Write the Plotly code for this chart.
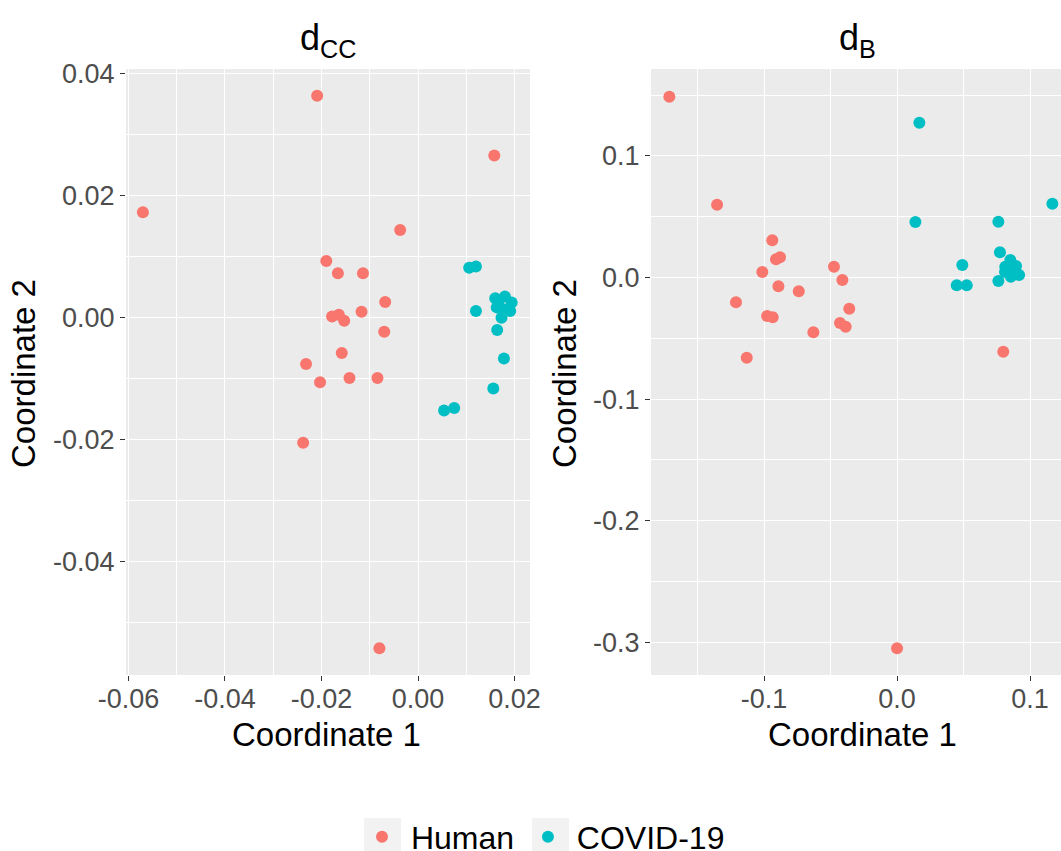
import plotly.graph_objects as go

W, H = 1061, 851

groups = ["Human", "COVID-19"]
group_colors = ["#F8766D", "#00BFC4"]

# ---- d_CC panel data ----
dcc_human_x = [-0.0570, -0.0209, 0.0158, -0.0037, -0.0190, -0.0166, -0.0114, -0.0068,
               -0.0178, -0.0164, -0.0153, -0.0117, -0.0070, -0.0158, -0.0232, -0.0203,
               -0.0142, -0.0084, -0.0238, -0.0080]
dcc_human_y = [0.0173, 0.0364, 0.0266, 0.0144, 0.0093, 0.0073, 0.0073, 0.0026,
               0.0002, 0.0005, -0.0005, 0.0010, -0.0023, -0.0058, -0.0076, -0.0106,
               -0.0099, -0.0099, -0.0205, -0.0542]
dcc_covid_x = [0.0106, 0.0120, 0.0120, 0.0160, 0.0180, 0.0194, 0.0163, 0.0177,
               0.0191, 0.0173, 0.0166, 0.0164, 0.0178, 0.0156, 0.0054, 0.0075]
dcc_covid_y = [0.0082, 0.0084, 0.0011, 0.0032, 0.0035, 0.0025, 0.0017, 0.0014,
               0.0011, 0.0000, 0.0025, -0.0020, -0.0067, -0.0116, -0.0152, -0.0148]

# ---- d_B panel data ----
db_human_x = [-0.1353, -0.0938, -0.0910, -0.0880, -0.1013, -0.0892, -0.0739, -0.1211,
              -0.0977, -0.0935, -0.0629, -0.1130, -0.0474, -0.0411, -0.0359, -0.0429,
              -0.0386, 0.0799, -0.1712, 0.0000]
db_human_y = [0.0599, 0.0306, 0.0150, 0.0166, 0.0045, -0.0072, -0.0113, -0.0204,
              -0.0317, -0.0327, -0.0451, -0.0660, 0.0089, -0.0021, -0.0257, -0.0374,
              -0.0405, -0.0610, 0.1487, -0.3049]
db_covid_x = [0.0138, 0.0762, 0.1168, 0.0774, 0.0491, 0.0449, 0.0524, 0.0762,
              0.0852, 0.0814, 0.0892, 0.0918, 0.0856, 0.0812, 0.0895, 0.0168]
db_covid_y = [0.0456, 0.0459, 0.0607, 0.0207, 0.0103, -0.0064, -0.0064, -0.0029,
              0.0144, 0.0089, 0.0048, 0.0021, 0.0007, 0.0045, 0.0095, 0.1273]

# ---- tick labels ----
dcc_xticks = [-0.06, -0.04, -0.02, 0.0, 0.02]
dcc_xticktext = ["-0.06", "-0.04", "-0.02", "0.00", "0.02"]
dcc_yticks = [-0.04, -0.02, 0.0, 0.02, 0.04]
dcc_yticktext = ["-0.04", "-0.02", "0.00", "0.02", "0.04"]
db_xticks = [-0.1, 0.0, 0.1]
db_xticktext = ["-0.1", "0.0", "0.1"]
db_yticks = [-0.3, -0.2, -0.1, 0.0, 0.1]
db_yticktext = ["-0.3", "-0.2", "-0.1", "0.0", "0.1"]

panel_titles = ["d<sub>CC</sub>", "d<sub>B</sub>"]
x_title = "Coordinate 1"
y_title = "Coordinate 2"
legend_names = [" Human\u00a0", " COVID-19"]


def minor_vals(ticks):
    step = ticks[1] - ticks[0]
    vals = [ticks[0] - step / 2] + [(a + b) / 2 for a, b in zip(ticks[:-1], ticks[1:])] + [ticks[-1] + step / 2]
    return vals


FONT = "Liberation Sans, Arial, sans-serif"
fig = go.Figure()

panels = [
    ("x", "y", [(dcc_human_x, dcc_human_y), (dcc_covid_x, dcc_covid_y)]),
    ("x2", "y2", [(db_human_x, db_human_y), (db_covid_x, db_covid_y)]),
]
for pi, (xa, ya, series) in enumerate(panels):
    for gi, (xs, ys) in enumerate(series):
        fig.add_trace(go.Scatter(
            x=xs, y=ys, mode="markers", xaxis=xa, yaxis=ya,
            name=legend_names[gi], legendgroup=groups[gi], showlegend=(pi == 0),
            marker=dict(color=group_colors[gi], size=12, line=dict(width=0)),
        ))


def px_x(p):
    return p / W


def px_y(p):
    return 1 - p / H


ydom = [px_y(675), px_y(69)]

axis_common = dict(
    showgrid=True, gridcolor="white", gridwidth=1.2, zeroline=False, showline=False,
    ticks="outside", ticklen=5, tickwidth=1.1, tickcolor="#333333", automargin=False,
    tickfont=dict(family=FONT, size=27, color="#4D4D4D"), tickmode="array",
)
xaxis_extra = dict(ticklabelstandoff=-5)


def minor(ticks):
    return dict(tickmode="array", tickvals=minor_vals(ticks), showgrid=True,
                gridcolor="white", gridwidth=0.6, ticks="")


fig.update_layout(
    template="none",
    width=W, height=H,
    margin=dict(l=0, r=0, t=0, b=0, autoexpand=False),
    paper_bgcolor="white", plot_bgcolor="#EBEBEB",
    xaxis=dict(domain=[px_x(126), px_x(530)], range=[-0.0605, 0.0232], anchor="y",
               tickvals=dcc_xticks, ticktext=dcc_xticktext, minor=minor(dcc_xticks),
               **axis_common, **xaxis_extra),
    yaxis=dict(domain=ydom, range=[-0.0586, 0.0408], anchor="x",
               tickvals=dcc_yticks, ticktext=dcc_yticktext, minor=minor(dcc_yticks), **axis_common),
    xaxis2=dict(domain=[px_x(651), 1.0], range=[-0.1850, 0.1233], anchor="y2",
                tickvals=db_xticks, ticktext=db_xticktext, minor=minor(db_xticks),
                **axis_common, **xaxis_extra),
    yaxis2=dict(domain=ydom, range=[-0.3269, 0.1715], anchor="x2",
                tickvals=db_yticks, ticktext=db_yticktext, minor=minor(db_yticks), **axis_common),
    showlegend=True,
    legend=dict(orientation="h", x=px_x(362), xanchor="left", y=px_y(837), yanchor="middle",
                font=dict(family=FONT, size=32, color="black"), bgcolor="rgba(0,0,0,0)",
                itemsizing="constant", traceorder="normal"),
    font=dict(family=FONT),
)

ann = []
# panel titles
for title, cx in zip(panel_titles, [328, 857]):
    ann.append(dict(text=title, x=px_x(cx), y=px_y(40), xref="paper", yref="paper",
                    showarrow=False, xanchor="center", yanchor="middle",
                    font=dict(family=FONT, size=36, color="black")))
# x axis titles
for cx in [326, 862]:
    ann.append(dict(text=x_title, x=px_x(cx), y=px_y(734), xref="paper", yref="paper",
                    showarrow=False, xanchor="center", yanchor="middle",
                    font=dict(family=FONT, size=33, color="black")))
# y axis titles
for cx in [23, 564]:
    ann.append(dict(text=y_title, x=px_x(cx), y=px_y(374), xref="paper", yref="paper",
                    showarrow=False, xanchor="center", yanchor="middle", textangle=-90,
                    font=dict(family=FONT, size=33, color="black")))
fig.update_layout(annotations=ann)

# grey legend key backgrounds (ggplot style)
for x0, x1 in [(364, 401), (532, 569)]:
    fig.add_shape(type="rect", xref="paper", yref="paper",
                  x0=px_x(x0), x1=px_x(x1), y0=px_y(851), y1=px_y(818),
                  fillcolor="#F2F2F2", line=dict(width=0), layer="below")

fig.write_html("out.html")
